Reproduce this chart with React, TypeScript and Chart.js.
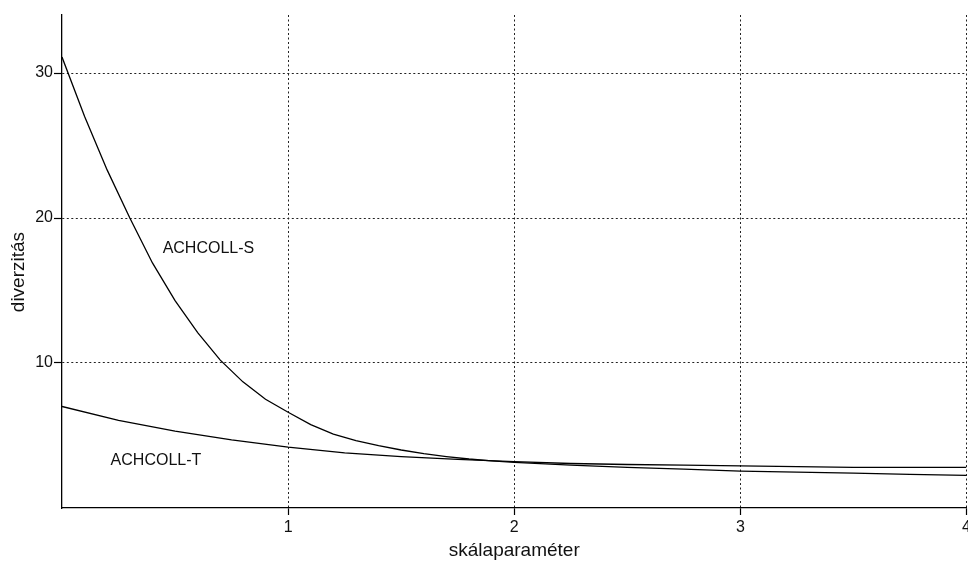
import React, { useEffect, useRef } from "react";
import { Chart, registerables } from "chart.js";

Chart.register(...registerables);

const FONT = '"Liberation Sans", Arial, sans-serif';

const seriesNames = ["ACHCOLL-S", "ACHCOLL-T"];

const sX = [0, 0.1, 0.2, 0.3, 0.4, 0.5, 0.6, 0.7, 0.8, 0.9, 1.0, 1.1, 1.2, 1.3, 1.4, 1.5, 1.6, 1.7, 1.8, 1.9, 2.0, 2.25, 2.5, 2.75, 3.0, 3.25, 3.5, 3.75, 4.0];
const sY = [31.1, 27.0, 23.3, 20.0, 16.9, 14.3, 12.1, 10.2, 8.7, 7.5, 6.6, 5.75, 5.1, 4.65, 4.3, 4.0, 3.75, 3.55, 3.38, 3.25, 3.15, 2.95, 2.8, 2.68, 2.55, 2.48, 2.4, 2.32, 2.25];

const tX = [0, 0.25, 0.5, 0.75, 1.0, 1.25, 1.5, 1.75, 2.0, 2.25, 2.5, 2.75, 3.0, 3.25, 3.5, 3.75, 4.0];
const tY = [7.0, 6.05, 5.3, 4.7, 4.2, 3.8, 3.55, 3.35, 3.2, 3.07, 3.0, 2.95, 2.9, 2.85, 2.8, 2.8, 2.8];

const xTicks = [1, 2, 3, 4];
const yTicks = [10, 20, 30];

// label anchor positions (data units), one per series
const labelX = [0.445, 0.215];
const labelY = [17.9, 3.28];

const xTitle = "skálaparaméter";
const yTitle = "diverzitás    ";

const seriesLabelPlugin = {
  id: "seriesLabels",
  afterDatasetsDraw(chart: any) {
    const { ctx, scales } = chart;
    ctx.save();
    ctx.font = `16px ${FONT}`;
    ctx.fillStyle = "#111";
    ctx.textAlign = "left";
    ctx.textBaseline = "middle";
    seriesNames.forEach((name, i) => {
      ctx.fillText(name, scales.x.getPixelForValue(labelX[i]), scales.y.getPixelForValue(labelY[i]));
    });
    ctx.restore();
  },
};

export default function App() {
  const ref = useRef<HTMLCanvasElement | null>(null);

  useEffect(() => {
    if (!ref.current) return;
    const chart = new Chart(ref.current, {
      type: "line",
      data: {
        datasets: [
          {
            label: seriesNames[0],
            data: sX.map((x, i) => ({ x, y: sY[i] })),
            borderColor: "#000",
            borderWidth: 1.3,
            pointRadius: 0,
            tension: 0,
            fill: false,
          },
          {
            label: seriesNames[1],
            data: tX.map((x, i) => ({ x, y: tY[i] })),
            borderColor: "#000",
            borderWidth: 1.3,
            pointRadius: 0,
            tension: 0,
            fill: false,
          },
        ],
      },
      options: {
        responsive: false,
        animation: false,
        devicePixelRatio: 1,
        layout: { autoPadding: false, padding: { top: 15, right: 1.5, left: 0, bottom: 0 } },
        plugins: { legend: { display: false }, tooltip: { enabled: false } },
        scales: {
          x: {
            type: "linear",
            min: 0,
            max: 4,
            afterBuildTicks: (s: any) => {
              s.ticks = xTicks.map((v) => ({ value: v }));
            },
            afterFit: (s: any) => {
              s.height = 54;
              s.paddingLeft = 0;
              s.paddingRight = 0;
            },
            grid: {
              color: "#222",
              lineWidth: 1,
              drawTicks: true,
              tickLength: 7,
              tickColor: "#000",
              tickWidth: 1.2,
              tickBorderDash: [],
            },
            border: { display: true, color: "#000", width: 1.3, dash: [2, 2.5] },
            ticks: {
              color: "#111",
              font: { size: 16, family: FONT },
              padding: 3,
              maxRotation: 0,
              autoSkip: false,
            },
            title: {
              display: true,
              text: xTitle,
              color: "#111",
              font: { size: 19, family: FONT },
              padding: { top: 0, bottom: 0 },
            },
          },
          y: {
            type: "linear",
            min: 0,
            max: 34,
            afterBuildTicks: (s: any) => {
              s.ticks = yTicks.map((v) => ({ value: v }));
            },
            afterFit: (s: any) => {
              s.width = 62;
              s.paddingTop = 0;
              s.paddingBottom = 0;
            },
            grid: {
              color: "#222",
              lineWidth: 1,
              drawTicks: true,
              tickLength: 8,
              tickColor: "#000",
              tickWidth: 1.2,
              tickBorderDash: [],
            },
            border: { display: true, color: "#000", width: 1.3, dash: [2, 2.5] },
            ticks: {
              color: "#111",
              font: { size: 16, family: FONT },
              padding: 1,
              autoSkip: false,
            },
            title: {
              display: true,
              text: yTitle,
              color: "#111",
              font: { size: 19, family: FONT },
              padding: { top: 7, bottom: 0 },
            },
          },
        },
      },
      plugins: [seriesLabelPlugin],
    } as any);
    return () => chart.destroy();
  }, []);

  return (
    <div style={{ position: "absolute", left: 0, top: 0, width: 968, height: 562, background: "#fff" }}>
      <canvas ref={ref} width={968} height={562} style={{ display: "block" }} />
    </div>
  );
}
